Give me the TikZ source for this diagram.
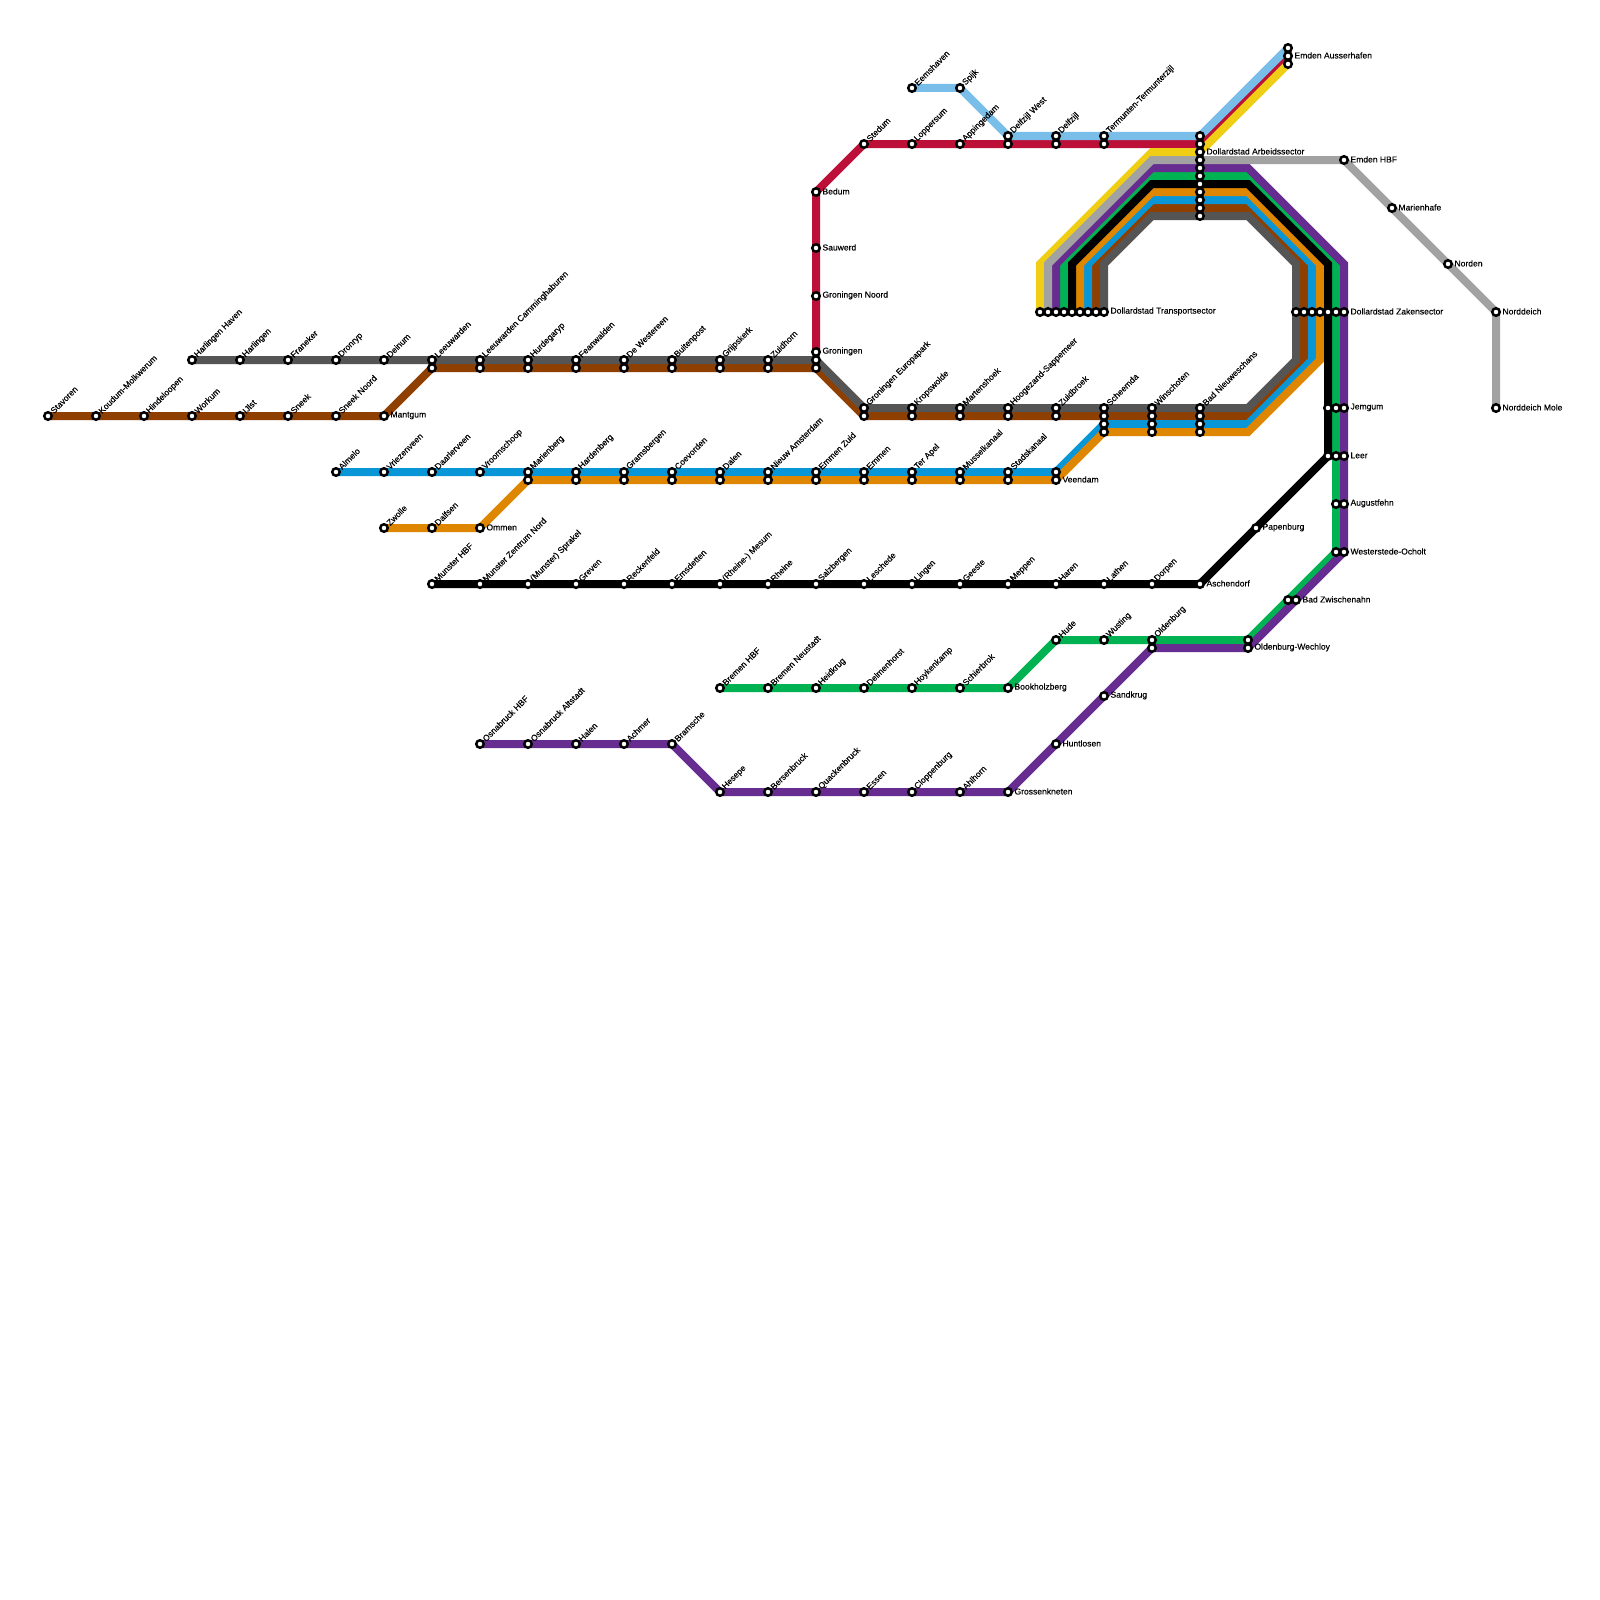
\documentclass[tikz,border=0pt]{standalone}
\usepackage{fontspec}
\setmainfont{Liberation Sans}
\newfontfamily\lab[FakeBold=0.2]{Liberation Sans}
\pgfdeclarelayer{lines}
\pgfsetlayers{lines,main}
\definecolor{cyellow}{HTML}{F0CE15}
\definecolor{csilver}{HTML}{A2A2A2}
\definecolor{cpurple}{HTML}{662C90}
\definecolor{cgreen}{HTML}{00B251}
\definecolor{corange}{HTML}{DF8600}
\definecolor{cblue}{HTML}{0896D7}
\definecolor{cbrown}{HTML}{8F3F00}
\definecolor{cdark}{HTML}{555555}
\definecolor{cred}{HTML}{BD1038}
\definecolor{csky}{HTML}{79BDE9}
\tikzset{
  station/.style={circle,draw=black,fill=white,line width=2.5pt,minimum size=7.5pt,inner sep=0pt,outer sep=0pt},
  upname/.style={anchor=west,rotate=45,inner sep=0pt,outer sep=0pt,font=\lab\fontsize{8.55}{9}\selectfont,text=black},
  sidename/.style={anchor=west,inner sep=0pt,outer sep=0pt,font=\lab\fontsize{8.55}{9}\selectfont,text=black},
  route/.style={line width=8pt,line join=miter,miter limit=10,line cap=butt},
}
\newcommand\stn[2]{\node[station] (s#1-#2) at (#1pt,-#2pt) {};}
\newcommand\stnU[3]{\stn{#1}{#2}\node[upname] (l#1-#2) at ([shift={(4pt,4pt)}]s#1-#2.center) {#3};}
\newcommand\stnR[3]{\stn{#1}{#2}\node[sidename] (l#1-#2) at ([shift={(6.5pt,0.6pt)}]s#1-#2.center) {#3};}
\newcommand\bend[2]{\coordinate (c#1-#2) at (#1pt,-#2pt);}
\begin{document}
\begin{tikzpicture}
\useasboundingbox (0pt,0pt) rectangle (1600pt,-1600pt);
% corners
\bend{1040}{264}\bend{1048}{264}\bend{1056}{264}\bend{1064}{264}\bend{1072}{264}\bend{1080}{264}\bend{1088}{264}\bend{1096}{264}\bend{1104}{264}
\bend{1152}{152}\bend{1152}{160}\bend{1152}{168}\bend{1152}{176}\bend{1152}{184}\bend{1152}{192}\bend{1152}{200}\bend{1152}{208}\bend{1152}{216}
\bend{1248}{168}\bend{1248}{176}\bend{1248}{184}\bend{1248}{192}\bend{1248}{200}\bend{1248}{208}\bend{1248}{216}
\bend{1296}{264}\bend{1304}{264}\bend{1312}{264}\bend{1320}{264}\bend{1328}{264}\bend{1336}{264}\bend{1344}{264}
\bend{1296}{360}\bend{1304}{360}\bend{1312}{360}\bend{1320}{360}
\bend{1248}{408}\bend{1248}{416}\bend{1248}{424}\bend{1248}{432}
% row 360
\stnU{192}{360}{Harlingen Haven}\stnU{240}{360}{Harlingen}\stnU{288}{360}{Franeker}\stnU{336}{360}{Dronryp}\stnU{384}{360}{Deinum}
\stnU{432}{360}{Leeuwarden}\stnU{480}{360}{Leeuwarden Camminghaburen}\stnU{528}{360}{Hurdegaryp}\stnU{576}{360}{Feanwalden}\stnU{624}{360}{De Westereen}\stnU{672}{360}{Buitenpost}\stnU{720}{360}{Grijpskerk}\stnU{768}{360}{Zuidhorn}
\stn{816}{360}
\stn{432}{368}\stn{480}{368}\stn{528}{368}\stn{576}{368}\stn{624}{368}\stn{672}{368}\stn{720}{368}\stn{768}{368}\stn{816}{368}
% row 416 west
\stnU{48}{416}{Stavoren}\stnU{96}{416}{Koudum-Molkwerum}\stnU{144}{416}{Hindeloopen}\stnU{192}{416}{Workum}\stnU{240}{416}{IJlst}\stnU{288}{416}{Sneek}\stnU{336}{416}{Sneek Noord}\stnR{384}{416}{Mantgum}
% row 472 / 480
\stnU{336}{472}{Almelo}\stnU{384}{472}{Vriezenveen}\stnU{432}{472}{Daarlerveen}\stnU{480}{472}{Vroomschoop}\stnU{528}{472}{Marienberg}\stnU{576}{472}{Hardenberg}\stnU{624}{472}{Gramsbergen}\stnU{672}{472}{Coevorden}\stnU{720}{472}{Dalen}\stnU{768}{472}{Nieuw Amsterdam}\stnU{816}{472}{Emmen Zuid}\stnU{864}{472}{Emmen}\stnU{912}{472}{Ter Apel}\stnU{960}{472}{Musselkanaal}\stnU{1008}{472}{Stadskanaal}\stn{1056}{472}
\stn{528}{480}\stn{576}{480}\stn{624}{480}\stn{672}{480}\stn{720}{480}\stn{768}{480}\stn{816}{480}\stn{864}{480}\stn{912}{480}\stn{960}{480}\stn{1008}{480}\stnR{1056}{480}{Veendam}
\stnU{384}{528}{Zwolle}\stnU{432}{528}{Dalfsen}\stnR{480}{528}{Ommen}
% row 408 .. 432
\stnU{864}{408}{Groningen Europapark}\stnU{912}{408}{Kropswolde}\stnU{960}{408}{Martenshoek}\stnU{1008}{408}{Hoogezand-Sappemeer}\stnU{1056}{408}{Zuidbroek}\stnU{1104}{408}{Scheemda}\stnU{1152}{408}{Winschoten}\stnU{1200}{408}{Bad Nieuweschans}
\stn{864}{416}\stn{912}{416}\stn{960}{416}\stn{1008}{416}\stn{1056}{416}\stn{1104}{416}\stn{1152}{416}\stn{1200}{416}
\stn{1104}{424}\stn{1152}{424}\stn{1200}{424}
\stn{1104}{432}\stn{1152}{432}\stn{1200}{432}
% black row
\stnU{432}{584}{Munster HBF}\stnU{480}{584}{Munster Zentrum Nord}\stnU{528}{584}{(Munster) Sprakel}\stnU{576}{584}{Greven}\stnU{624}{584}{Reckenfeld}\stnU{672}{584}{Emsdetten}\stnU{720}{584}{(Rheine-) Mesum}\stnU{768}{584}{Rheine}\stnU{816}{584}{Salzbergen}\stnU{864}{584}{Leschede}\stnU{912}{584}{Lingen}\stnU{960}{584}{Geeste}\stnU{1008}{584}{Meppen}\stnU{1056}{584}{Haren}\stnU{1104}{584}{Lathen}\stnU{1152}{584}{Dorpen}\stnR{1200}{584}{Aschendorf}
\stnR{1256}{528}{Papenburg}
% green row
\stnU{720}{688}{Bremen HBF}\stnU{768}{688}{Bremen Neustadt}\stnU{816}{688}{Heidkrug}\stnU{864}{688}{Delmenhorst}\stnU{912}{688}{Hoykenkamp}\stnU{960}{688}{Schierbrok}\stnR{1008}{688}{Bookholzberg}
\stnU{1056}{640}{Hude}\stnU{1104}{640}{Wusting}\stnU{1152}{640}{Oldenburg}\stn{1248}{640}
\stn{1288}{600}\stnR{1296}{600}{Bad Zwischenahn}
% purple row
\stnU{480}{744}{Osnabruck HBF}\stnU{528}{744}{Osnabruck Altstadt}\stnU{576}{744}{Halen}\stnU{624}{744}{Achmer}\stnU{672}{744}{Bramsche}
\stnU{720}{792}{Hesepe}\stnU{768}{792}{Bersenbruck}\stnU{816}{792}{Quackenbruck}\stnU{864}{792}{Essen}\stnU{912}{792}{Cloppenburg}\stnU{960}{792}{Ahlhorn}\stnR{1008}{792}{Grossenkneten}
\stnR{1056}{744}{Huntlosen}\stnR{1104}{696}{Sandkrug}\stn{1152}{648}\stnR{1248}{648}{Oldenburg-Wechloy}
% right column
\stn{1328}{408}\stn{1336}{408}\stnR{1344}{408}{Jemgum}
\stn{1328}{456}\stn{1336}{456}\stnR{1344}{456}{Leer}
\stn{1336}{504}\stnR{1344}{504}{Augustfehn}
\stn{1336}{552}\stnR{1344}{552}{Westerstede-Ocholt}
% red and sky
\stnR{816}{192}{Bedum}\stnR{816}{248}{Sauwerd}\stnR{816}{296}{Groningen Noord}\stnR{816}{352}{Groningen}
\stnU{864}{144}{Stedum}\stnU{912}{144}{Loppersum}\stnU{960}{144}{Appingedam}\stn{1008}{144}\stn{1056}{144}\stn{1104}{144}
\stnU{912}{88}{Eemshaven}\stnU{960}{88}{Spijk}\stnU{1008}{136}{Delfzijl West}\stnU{1056}{136}{Delfzijl}\stnU{1104}{136}{Termunten-Termunterzijl}
\stn{1288}{48}\stnR{1288}{56}{Emden Ausserhafen}\stn{1288}{64}
% centre column
\stn{1200}{136}\stn{1200}{144}\stnR{1200}{152}{Dollardstad Arbeidssector}\stn{1200}{160}\stn{1200}{168}\stn{1200}{176}\stn{1200}{184}\stn{1200}{192}\stn{1200}{200}\stn{1200}{208}\stn{1200}{216}
% transport sector
\stn{1040}{312}\stn{1048}{312}\stn{1056}{312}\stn{1064}{312}\stn{1072}{312}\stn{1080}{312}\stn{1088}{312}\stn{1096}{312}\stnR{1104}{312}{Dollardstad Transportsector}
% zaken sector
\stn{1296}{312}\stn{1304}{312}\stn{1312}{312}\stn{1320}{312}\stn{1328}{312}\stn{1336}{312}\stnR{1344}{312}{Dollardstad Zakensector}
% silver tail
\stnR{1344}{160}{Emden HBF}\stnR{1392}{208}{Marienhafe}\stnR{1448}{264}{Norden}\stnR{1496}{312}{Norddeich}\stnR{1496}{408}{Norddeich Mole}
\begin{pgfonlayer}{lines}
\fill[white] (0pt,0pt) rectangle (1600pt,-1600pt);
\draw[route,cbrown] (s48-416.center) -- (s384-416.center) -- (s432-368.center) -- (s816-368.center) -- (s864-416.center) -- (c1248-416) -- (c1304-360) -- (s1304-312.center) -- (c1304-264) -- (c1248-208) -- (c1152-208) -- (c1096-264) -- (s1096-312.center);
\draw[route,cred] (s816-352.center) -- (s816-192.center) -- (s864-144.center) -- (s1200-144.center) -- (s1288-56.center);
\draw[route,cgreen] (s720-688.center) -- (s1008-688.center) -- (s1056-640.center) -- (s1248-640.center) -- (s1336-552.center) -- (s1336-312.center) -- (c1336-264) -- (c1248-176) -- (c1152-176) -- (c1064-264) -- (s1064-312.center);
\draw[route,cyellow] (s1040-312.center) -- (c1040-264) -- (c1152-152) -- (s1200-152.center) -- (s1288-64.center);
\draw[route,cblue] (s336-472.center) -- (s1056-472.center) -- (s1104-424.center) -- (c1248-424) -- (c1312-360) -- (s1312-312.center) -- (c1312-264) -- (c1248-200) -- (c1152-200) -- (c1088-264) -- (s1088-312.center);
\draw[route,corange] (s384-528.center) -- (s480-528.center) -- (s528-480.center) -- (s1056-480.center) -- (s1104-432.center) -- (c1248-432) -- (c1320-360) -- (s1320-312.center) -- (c1320-264) -- (c1248-192) -- (c1152-192) -- (c1080-264) -- (s1080-312.center);
\draw[route,black] (s432-584.center) -- (s1200-584.center) -- (s1328-456.center) -- (s1328-312.center) -- (c1328-264) -- (c1248-184) -- (c1152-184) -- (c1072-264) -- (s1072-312.center);
\draw[route,cpurple] (s480-744.center) -- (s672-744.center) -- (s720-792.center) -- (s1008-792.center) -- (s1152-648.center) -- (s1248-648.center) -- (s1344-552.center) -- (s1344-312.center) -- (c1344-264) -- (c1248-168) -- (c1152-168) -- (c1056-264) -- (s1056-312.center);
\draw[route,csilver] (s1048-312.center) -- (c1048-264) -- (c1152-160) -- (s1200-160.center) -- (s1344-160.center) -- (s1496-312.center) -- (s1496-408.center);
\draw[route,cdark] (s192-360.center) -- (s816-360.center) -- (s864-408.center) -- (c1248-408) -- (c1296-360) -- (s1296-312.center) -- (c1296-264) -- (c1248-216) -- (c1152-216) -- (c1104-264) -- (s1104-312.center);
\draw[route,csky] (s912-88.center) -- (s960-88.center) -- (s1008-136.center) -- (s1200-136.center) -- (s1288-48.center);
\end{pgfonlayer}
\end{tikzpicture}
\end{document}
